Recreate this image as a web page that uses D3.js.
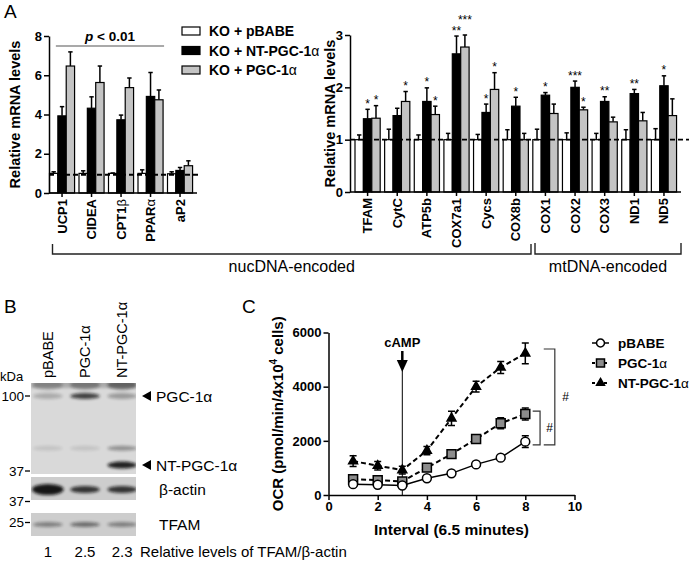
<!DOCTYPE html>
<html>
<head>
<meta charset="utf-8">
<script src="https://cdn.jsdelivr.net/npm/d3@7"></script>
<style>
body { margin: 0; background: #fff; }
svg { font-family: "Liberation Sans", Arial, sans-serif; }
.axis path, .axis line { stroke: #000; stroke-width: 1.5; }
.axis text { font-size: 13px; font-weight: bold; fill: #000; }
</style>
</head>
<body>
<svg id="fig" width="693" height="562"></svg>
<script>
// ---- panel A data: KO + pBABE (white), KO + NT-PGC-1a (black), KO + PGC-1a (grey)
var leftGenes = ["UCP1", "CIDEA", "CPT1β", "PPARα", "aP2"];
var leftPbabe = [1.0, 1.0, 1.0, 1.0, 0.98];
var leftPbabeErr = [0.08, 0.13, 0.02, 0.18, 0.1];
var leftNt = [3.93, 4.32, 3.73, 4.92, 1.15];
var leftNtErr = [0.47, 0.58, 0.24, 1.22, 0.15];
var leftPgc = [6.47, 5.63, 5.37, 4.75, 1.39];
var leftPgcErr = [0.72, 0.84, 0.49, 0.5, 0.25];

var rightGenes = ["TFAM", "CytC", "ATP5b", "COX7a1", "Cycs", "COX8b", "COX1", "COX2", "COX3", "ND1", "ND5"];
var rightPbabe = [1, 1, 1, 1, 1, 1, 1, 1, 1, 1, 1];
var rightPbabeErr = [0.09, 0.2, 0.09, 0.12, 0.1, 0.19, 0.2, 0.13, 0.12, 0.19, 0.21];
var rightNt = [1.40, 1.46, 1.73, 2.64, 1.52, 1.64, 1.85, 2.0, 1.73, 1.88, 2.03];
var rightNtErr = [0.18, 0.14, 0.26, 0.34, 0.16, 0.17, 0.05, 0.12, 0.09, 0.08, 0.19];
var rightPgc = [1.41, 1.73, 1.48, 2.77, 1.96, 1.0, 1.50, 1.57, 1.34, 1.36, 1.46];
var rightPgcErr = [0.24, 0.19, 0.16, 0.23, 0.32, 0.12, 0.18, 0.05, 0.09, 0.16, 0.32];
var rightNtStars = ["*", "", "*", "**", "*", "*", "*", "***", "**", "**", "*"];
var rightPgcStars = ["*", "*", "*", "***", "*", "", "", "*", "", "", ""];

var legendA = ["KO + pBABE", "KO + NT-PGC-1α", "KO + PGC-1α"];
var barFills = ["#fff", "#000", "#c4c4c4"];

// ---- panel B data
var laneNames = ["pBABE", "PGC-1α", "NT-PGC-1α"];
var tfamRatio = ["1", "2.5", "2.3"];
var blotBandKda = [116, 100, 50, 40];
var blotBandLevels = [[0.25, 0.32, 0.45], [0.22, 0.75, 0.3], [0.1, 0.1, 0.35], [0, 0, 0.9]];
var blotBandSize = [5, 3, 2.5, 3.5];
var actinLevels = [0.95, 0.8, 0.8];
var actinSize = [5.5, 3.5, 3.5];
var tfamLevels = [0.4, 0.5, 0.4];

// ---- panel C data (OCR, pmol/min/4x10^4 cells)
var intervals = [1, 2, 3, 4, 5, 6, 7, 8];
var ocrPbabe = [400, 380, 350, 620, 800, 1130, 1380, 1970];
var ocrPbabeErr = [60, 50, 50, 60, 60, 80, 100, 220];
var ocrPgc = [580, 550, 500, 1010, 1510, 2070, 2650, 2990];
var ocrPgcErr = [100, 90, 80, 80, 100, 130, 200, 220];
var ocrNt = [1250, 1080, 920, 1640, 2830, 4000, 4710, 5230];
var ocrNtErr = [200, 160, 140, 150, 260, 200, 220, 380];
var legendC = ["pBABE", "PGC-1α", "NT-PGC-1α"];

var svg = d3.select("#fig");

var defs = svg.append("defs");
defs.append("filter").attr("id", "blur").attr("x", "-50%").attr("y", "-200%").attr("width", "200%").attr("height", "500%")
    .append("feGaussianBlur").attr("stdDeviation", 1.6);

// greek letters drawn a bit lighter like the original
function greekText(sel, str) {
    var parts = str.split(/([αβ])/);
    parts.forEach(function(p) {
        if (!p) return;
        var t = sel.append("tspan").text(p);
        if (p == "α" || p == "β") t.attr("font-weight", "normal");
    });
}

function barPanel(genes, series, errs, opt) {
    var g = svg.append("g");
    var x0 = d3.scaleBand().domain(genes).range([opt.x0, opt.x1])
        .paddingInner(0.15).paddingOuter(0.075).align(0);
    var x1 = d3.scaleBand().domain([0, 1, 2]).range([0, x0.bandwidth()]);
    var y = d3.scaleLinear().domain([0, opt.ymax]).range([opt.yBottom, opt.yTop]);

    series.forEach(function(vals, s) {
        var bx = (d, i) => x0(genes[i]) + x1(s);
        var cx = (d, i) => x0(genes[i]) + x1(s) + x1.bandwidth() / 2;
        // error bars (upper only)
        g.selectAll(null).data(vals).enter().append("line")
            .attr("x1", cx).attr("x2", cx)
            .attr("y1", d => y(d)).attr("y2", (d, i) => y(d + errs[s][i]))
            .attr("stroke", "#000").attr("stroke-width", 1.5);
        g.selectAll(null).data(vals).enter().append("line")
            .attr("x1", (d, i) => cx(d, i) - 2.2).attr("x2", (d, i) => cx(d, i) + 2.2)
            .attr("y1", (d, i) => y(d + errs[s][i])).attr("y2", (d, i) => y(d + errs[s][i]))
            .attr("stroke", "#000").attr("stroke-width", 1.5);
        g.selectAll(null).data(vals).enter().append("rect")
            .attr("x", bx).attr("y", d => y(d))
            .attr("width", x1.bandwidth()).attr("height", d => y(0) - y(d))
            .attr("fill", barFills[s]).attr("stroke", "#000").attr("stroke-width", 1.2);
    });

    // reference line
    g.append("line")
        .attr("x1", opt.axisX).attr("x2", opt.dashEnd)
        .attr("y1", y(opt.refLine)).attr("y2", y(opt.refLine))
        .attr("stroke", "#000").attr("stroke-width", 1.8).attr("stroke-dasharray", "5,3");

    // y axis
    g.append("g").attr("class", "axis")
        .attr("transform", `translate(${opt.axisX},0)`)
        .call(d3.axisLeft(y).tickValues(opt.yTicks).tickFormat(d3.format("d"))
            .tickSize(5).tickSizeOuter(0).tickPadding(2));

    // x axis
    var xa = g.append("g").attr("class", "axis");
    xa.append("line").attr("x1", opt.axisX).attr("x2", opt.x1)
        .attr("y1", y(0)).attr("y2", y(0));
    var tickX = d => x0(d) + x1(1) + x1.bandwidth() / 2;
    xa.selectAll(null).data(genes).enter().append("line")
        .attr("x1", tickX).attr("x2", tickX)
        .attr("y1", y(0)).attr("y2", y(0) + 4);
    xa.selectAll(null).data(genes).enter().append("text")
        .attr("transform", d => `translate(${tickX(d) + 4.5},${y(0) + 6}) rotate(-90)`)
        .attr("text-anchor", "end")
        .attr("font-size", "12.5px")
        .each(function(d) { greekText(d3.select(this), d); });

    // y label
    g.append("text")
        .attr("transform", `translate(${opt.labelX},${(opt.yTop + opt.yBottom) / 2}) rotate(-90)`)
        .attr("text-anchor", "middle")
        .attr("font-size", "14.5px").attr("font-weight", "bold")
        .text("Relative mRNA levels");

    return { x0: x0, x1: x1, y: y, g: g };
}

// ---------------- Panel A ----------------
svg.append("text").attr("x", 4).attr("y", 18).attr("font-size", "19px").text("A");

var left = barPanel(leftGenes, [leftPbabe, leftNt, leftPgc], [leftPbabeErr, leftNtErr, leftPgcErr], {
    x0: 49.5, x1: 197, axisX: 49, yBottom: 193, yTop: 36, ymax: 8,
    yTicks: [0, 2, 4, 6, 8], refLine: 0.93, dashEnd: 201, labelX: 20
});

// p < 0.01 over the first four genes
var pStart = left.x0("UCP1") + left.x1(1) - 2;
var pEnd = left.x0("PPARα") + left.x0.bandwidth() + 1;
svg.append("line").attr("x1", pStart).attr("x2", pEnd).attr("y1", 46).attr("y2", 46)
    .attr("stroke", "#555").attr("stroke-width", 1.2);
var pt = svg.append("text").attr("x", (pStart + pEnd) / 2).attr("y", 41)
    .attr("text-anchor", "middle").attr("font-size", "13.5px").attr("font-weight", "bold");
pt.append("tspan").attr("font-style", "italic").text("p");
pt.append("tspan").text(" < 0.01");

// legend A
var legA = svg.append("g");
legendA.forEach(function(name, i) {
    var yy = 31 + i * 19.5;
    legA.append("rect").attr("x", 182).attr("y", yy - 4).attr("width", 18).attr("height", 8)
        .attr("fill", barFills[i]).attr("stroke", "#000").attr("stroke-width", 1.2);
    greekText(legA.append("text").attr("x", 209).attr("y", yy + 5)
        .attr("font-size", "14px").attr("font-weight", "bold"), name);
});

var right = barPanel(rightGenes, [rightPbabe, rightNt, rightPgc], [rightPbabeErr, rightNtErr, rightPgcErr], {
    x0: 355, x1: 681, axisX: 350, yBottom: 192, yTop: 35, ymax: 3,
    yTicks: [0, 1, 2, 3], refLine: 1, dashEnd: 689, labelX: 335
});

// significance stars
function starX(gene, s) { return right.x0(gene) + right.x1(s) + right.x1.bandwidth() / 2; }
var starG = svg.append("g").attr("font-size", "12px").attr("text-anchor", "middle");
rightGenes.forEach(function(gene, i) {
    var capNt = right.y(rightNt[i] + rightNtErr[i]);
    var capPgc = right.y(rightPgc[i] + rightPgcErr[i]);
    if (rightNtStars[i]) starG.append("text").attr("x", starX(gene, 1)).attr("y", capNt - 1.5).text(rightNtStars[i]);
    if (rightPgcStars[i]) {
        var yy = capPgc - 1.5;
        if (rightNtStars[i].length > 1 && Math.abs(capNt - capPgc) < 10) yy = Math.min(capNt, capPgc) - 11.5;
        starG.append("text").attr("x", starX(gene, 2)).attr("y", yy).text(rightPgcStars[i]);
    }
});

// nucDNA / mtDNA brackets
var brG = svg.append("g").attr("fill", "none").attr("stroke", "#222").attr("stroke-width", 1.4);
var nucL = 52.5, nucR = 531, mtL = 535, mtR = 681;
brG.append("path").attr("d", `M${nucL},244V254H${nucR}V244`);
brG.append("path").attr("d", `M${mtL},243V254H${mtR}V243`);
svg.append("text").attr("x", (nucL + nucR) / 2).attr("y", 272).attr("text-anchor", "middle")
    .attr("font-size", "16px").text("nucDNA-encoded");
svg.append("text").attr("x", (mtL + mtR) / 2).attr("y", 272).attr("text-anchor", "middle")
    .attr("font-size", "16px").text("mtDNA-encoded");

// ---------------- Panel B ----------------
svg.append("text").attr("x", 4).attr("y", 313).attr("font-size", "19px").text("B");

var lane = d3.scaleBand().domain(laneNames).range([32, 138]).paddingInner(0.15);
var laneC = d => lane(d) + lane.bandwidth() / 2;
var kda = d3.scaleLog().domain([100, 37]).range([396, 471]);
var blotL = 31, blotR = 136;

var bG = svg.append("g");
bG.selectAll(null).data(laneNames).enter().append("text")
    .attr("transform", d => `translate(${laneC(d) + 5},378) rotate(-90)`)
    .attr("font-size", "14.5px")
    .text(d => d);
bG.append("text").attr("x", 0).attr("y", 381).attr("font-size", "13px").text("kDa");

var strips = [[383, 474], [477, 500], [513, 536]];
defs.selectAll(null).data(strips).enter().append("clipPath").attr("id", (d, i) => "strip" + i)
    .append("rect").attr("x", blotL).attr("y", d => d[0]).attr("width", blotR - blotL).attr("height", d => d[1] - d[0]);
bG.selectAll(null).data(strips).enter().append("rect")
    .attr("x", blotL).attr("y", d => d[0]).attr("width", blotR - blotL).attr("height", d => d[1] - d[0])
    .attr("fill", (d, i) => i == 0 ? "#d9d9d9" : "#cdcdcd");

var main = bG.append("g").attr("clip-path", "url(#strip0)");
main.append("rect").attr("x", blotL).attr("y", 380).attr("width", blotR - blotL).attr("height", 8)
    .attr("fill", "#aaa").attr("filter", "url(#blur)");
blotBandKda.forEach(function(k, bi) {
    main.selectAll(null).data(blotBandLevels[bi]).enter().append("ellipse")
        .attr("cx", (d, i) => laneC(laneNames[i]))
        .attr("cy", kda(k))
        .attr("rx", lane.bandwidth() / 2 - 1)
        .attr("ry", blotBandSize[bi])
        .attr("fill", "#111").attr("opacity", d => d)
        .attr("filter", "url(#blur)");
});
var actinY = (strips[1][0] + strips[1][1]) / 2 + 1;
bG.append("g").attr("clip-path", "url(#strip1)").selectAll(null).data(actinLevels).enter().append("ellipse")
    .attr("cx", (d, i) => laneC(laneNames[i])).attr("cy", actinY)
    .attr("rx", (d, i) => lane.bandwidth() / 2 + (i == 0 ? 0 : -1)).attr("ry", (d, i) => actinSize[i])
    .attr("fill", "#111").attr("opacity", d => d).attr("filter", "url(#blur)");
var tfamY = (strips[2][0] + strips[2][1]) / 2;
bG.append("g").attr("clip-path", "url(#strip2)").selectAll(null).data(tfamLevels).enter().append("ellipse")
    .attr("cx", (d, i) => laneC(laneNames[i])).attr("cy", tfamY)
    .attr("rx", lane.bandwidth() / 2 - 1).attr("ry", 2.5)
    .attr("fill", "#111").attr("opacity", d => d).attr("filter", "url(#blur)");

// size markers
var markers = [["100", kda(100)], ["37", kda(37)], ["37", strips[1][1] + 1.5], ["25", tfamY - 2]];
markers.forEach(function(m) {
    bG.append("text").attr("x", 24).attr("y", m[1] + 4.5).attr("text-anchor", "end").attr("font-size", "13.5px").text(m[0]);
    bG.append("line").attr("x1", 25).attr("x2", 30).attr("y1", m[1]).attr("y2", m[1]).attr("stroke", "#000").attr("stroke-width", 1.3);
});

// band labels
[["PGC-1α", kda(100)], ["NT-PGC-1α", kda(40)]].forEach(function(b) {
    bG.append("path").attr("d", `M142,${b[1]}l9,-5v10z`).attr("fill", "#000");
    bG.append("text").attr("x", 156).attr("y", b[1] + 5.5).attr("font-size", "15.5px").text(b[0]);
});
bG.append("text").attr("x", 159).attr("y", actinY + 5.5).attr("font-size", "15.5px").text("β-actin");
bG.append("text").attr("x", 159).attr("y", tfamY + 5.5).attr("font-size", "15.5px").text("TFAM");

bG.selectAll(null).data(tfamRatio).enter().append("text")
    .attr("x", (d, i) => laneC(laneNames[i])).attr("y", 557)
    .attr("text-anchor", "middle").attr("font-size", "15px").text(d => d);
bG.append("text").attr("x", 140).attr("y", 557).attr("font-size", "15px").text("Relative levels of TFAM/β-actin");

// ---------------- Panel C ----------------
svg.append("text").attr("x", 242).attr("y", 313).attr("font-size", "19px").text("C");

var xC = d3.scaleLinear().domain([0, 10]).range([328.5, 574.5]);
var yC = d3.scaleLinear().domain([0, 6000]).range([495, 332.5]);
var cG = svg.append("g");

cG.append("g").attr("class", "axis").attr("transform", `translate(0,${yC(0)})`)
    .call(d3.axisBottom(xC).tickValues([0, 2, 4, 6, 8, 10]).tickFormat(d3.format("d"))
        .tickSize(5).tickSizeOuter(0).tickPadding(2));
cG.append("g").attr("class", "axis").attr("transform", `translate(${xC(0)},0)`)
    .call(d3.axisLeft(yC).tickValues([0, 2000, 4000, 6000]).tickFormat(d3.format("d"))
        .tickSize(5).tickSizeOuter(0).tickPadding(2));

cG.append("text").attr("x", (xC(0) + xC(10)) / 2).attr("y", 535).attr("text-anchor", "middle")
    .attr("font-size", "15.5px").attr("font-weight", "bold").text("Interval (6.5 minutes)");
var ocrLab = cG.append("text")
    .attr("transform", `translate(283,${(yC(0) + yC(6000)) / 2}) rotate(-90)`)
    .attr("text-anchor", "middle").attr("font-size", "15px").attr("font-weight", "bold");
ocrLab.append("tspan").text("OCR (pmol/min/4x10");
ocrLab.append("tspan").attr("font-size", "10px").attr("dy", -6).text("4");
ocrLab.append("tspan").attr("dy", 6).text(" cells)");

// cAMP marker
cG.append("line").attr("x1", xC(3)).attr("x2", xC(3)).attr("y1", 368).attr("y2", yC(0))
    .attr("stroke", "#000").attr("stroke-width", 1);
cG.append("line").attr("x1", xC(3)).attr("x2", xC(3)).attr("y1", 351).attr("y2", 362)
    .attr("stroke", "#000").attr("stroke-width", 2.5);
cG.append("path").attr("d", `M${xC(3) - 5.5},360h11l-5.5,12z`).attr("fill", "#000");
cG.append("text").attr("x", xC(3)).attr("y", 347).attr("text-anchor", "middle")
    .attr("font-size", "13px").attr("font-weight", "bold").text("cAMP");

var seriesC = [
    { name: legendC[0], vals: ocrPbabe, errs: ocrPbabeErr, sym: d3.symbolCircle, size: 62, fill: "#fff", dash: null },
    { name: legendC[1], vals: ocrPgc, errs: ocrPgcErr, sym: d3.symbolSquare, size: 80, fill: "#8c8c8c", dash: "5,3" },
    { name: legendC[2], vals: ocrNt, errs: ocrNtErr, sym: d3.symbolTriangle, size: 34, fill: "#000", dash: "5,3" }
];
var lineC = d3.line().x((d, i) => xC(intervals[i])).y(d => yC(d));

seriesC.slice().reverse().forEach(function(s) {
    var sg = cG.append("g");
    sg.append("path").datum(s.vals).attr("d", lineC).attr("fill", "none")
        .attr("stroke", "#000").attr("stroke-width", s.dash ? 2 : 1.5)
        .attr("stroke-dasharray", s.dash);
    sg.selectAll(null).data(s.vals).enter().append("path")
        .attr("d", (d, i) => `M${xC(intervals[i])},${yC(d - s.errs[i])}V${yC(d + s.errs[i])}` +
            `M${xC(intervals[i]) - 3.5},${yC(d - s.errs[i])}h7M${xC(intervals[i]) - 3.5},${yC(d + s.errs[i])}h7`)
        .attr("stroke", "#000").attr("stroke-width", 1.5).attr("fill", "none");
    sg.selectAll(null).data(s.vals).enter().append("path")
        .attr("transform", (d, i) => `translate(${xC(intervals[i])},${yC(d)})`)
        .attr("d", d3.symbol().type(s.sym).size(s.size))
        .attr("fill", s.fill).attr("stroke", "#000").attr("stroke-width", 1.5);
});

// significance brackets
var brC = cG.append("g").attr("fill", "none").attr("stroke", "#333").attr("stroke-width", 1.2);
var bBot = yC(ocrPbabe[7] - 120);
var outerTop = yC(ocrNt[7] + ocrNtErr[7] - 220);
var innerTop = yC(ocrPgc[7] + 110);
brC.append("path").attr("d", `M${xC(8.75)},${outerTop}H${xC(9.2)}V${bBot}H${xC(8.75)}`);
brC.append("path").attr("d", `M${xC(8.3)},${innerTop}H${xC(8.6)}V${bBot}H${xC(8.3)}`);
cG.append("text").attr("x", xC(9.5)).attr("y", (outerTop + bBot) / 2 + 4).attr("font-size", "12px").text("#");
cG.append("text").attr("x", xC(8.85)).attr("y", (innerTop + bBot) / 2 + 4).attr("font-size", "12px").text("#");

// legend C
seriesC.forEach(function(s, i) {
    var yy = 343 + i * 20;
    var lg = cG.append("g");
    lg.append("line").attr("x1", 592).attr("x2", 609).attr("y1", yy).attr("y2", yy)
        .attr("stroke", "#000").attr("stroke-width", s.dash ? 2 : 1.5).attr("stroke-dasharray", s.dash ? "3,3" : null);
    lg.append("path").attr("transform", `translate(600.5,${yy})`)
        .attr("d", d3.symbol().type(s.sym).size(s.size * 0.8))
        .attr("fill", s.fill).attr("stroke", "#000").attr("stroke-width", 1.5);
    greekText(lg.append("text").attr("x", 618).attr("y", yy + 5)
        .attr("font-size", "13.5px").attr("font-weight", "bold"), s.name);
});
</script>
</body>
</html>
